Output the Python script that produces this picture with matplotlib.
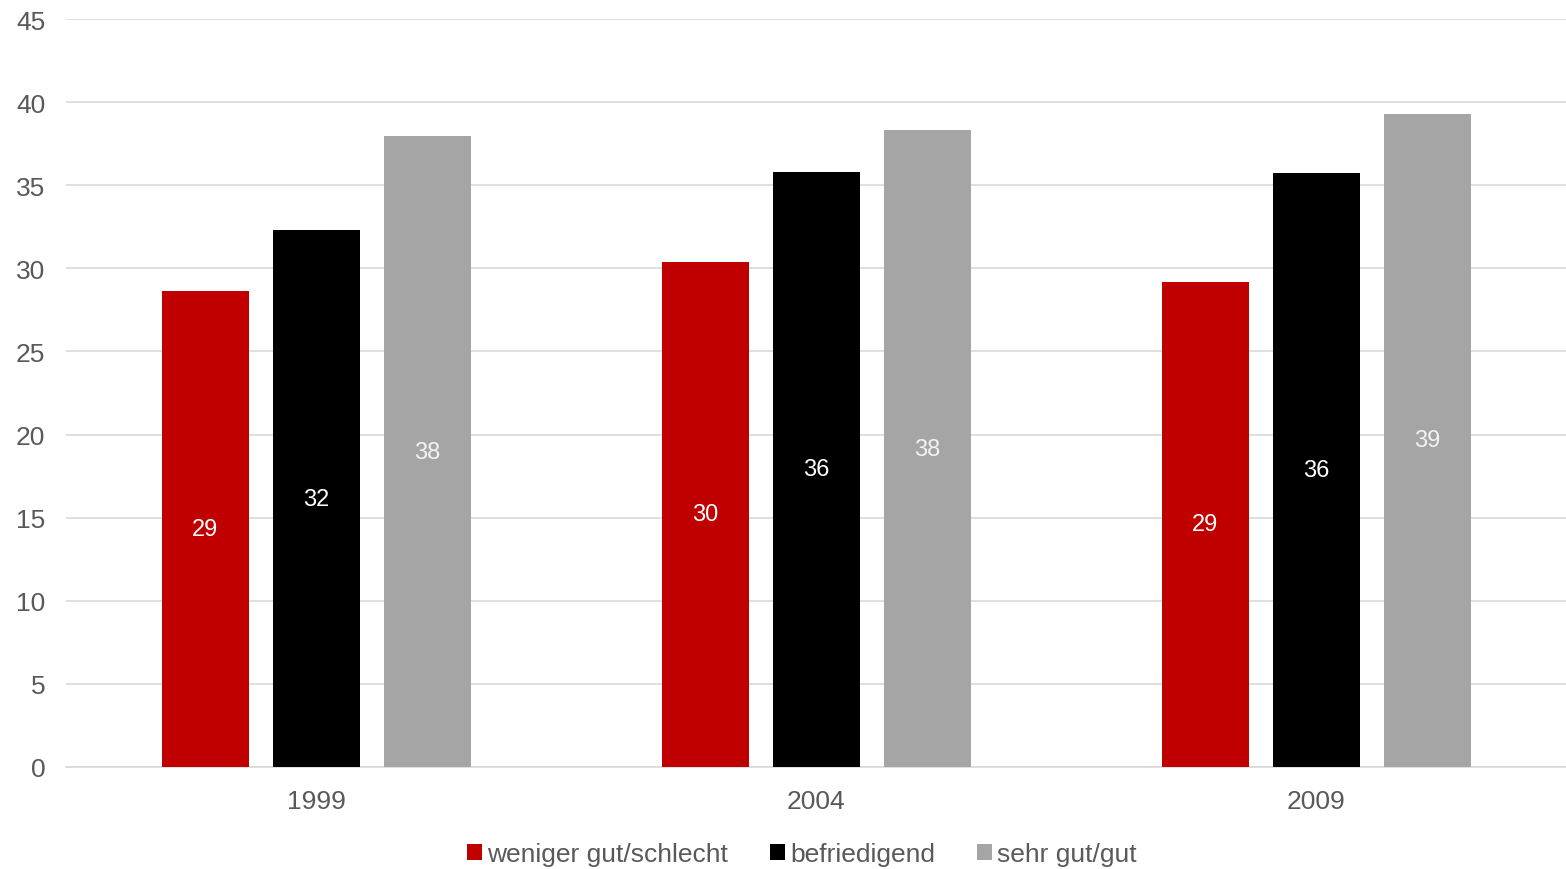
import matplotlib
matplotlib.use("Agg")
import matplotlib.pyplot as plt
import numpy as np

plt.rcParams['font.family'] = ['Liberation Sans', 'DejaVu Sans']

years = ["1999", "2004", "2009"]
series_names = ["weniger gut/schlecht", "befriedigend", "sehr gut/gut"]
weniger = [28.65, 30.4, 29.2]
befriedigend = [32.3, 35.8, 35.75]
sehr_gut = [37.95, 38.3, 39.3]
labels_weniger = ["29", "30", "29"]
labels_befr = ["32", "36", "36"]
labels_sehr = ["38", "38", "39"]
y_ticks = [0, 5, 10, 15, 20, 25, 30, 35, 40, 45]

colors = ["#C00000", "#000000", "#A5A5A5"]
label_colors = ["white", "white", "#F2F2F2"]

fig = plt.figure(figsize=(15.66, 8.7), dpi=100)
ax = fig.add_axes([66/1566, 1-768/870, 1-66/1566, (768-20)/870])

x = np.arange(len(years))
width = 0.174
offset = 0.222
all_series = [weniger, befriedigend, sehr_gut]
all_labels = [labels_weniger, labels_befr, labels_sehr]
for i, (vals, name, col, labs, lc) in enumerate(zip(all_series, series_names, colors, all_labels, label_colors)):
    xs = x + (i - 1) * offset
    bars = ax.bar(xs, vals, width, color=col, label=name, zorder=3)
    for xx, v, lab in zip(xs, vals, labs):
        ax.text(xx, v / 2, lab, ha='center', va='center', color=lc, fontsize=17, zorder=4)

ax.set_xlim(-0.5, 2.5)
ax.set_ylim(0, 45)
ax.set_yticks(y_ticks)
ax.set_yticklabels([str(t) for t in y_ticks])
ax.set_xticks(x)
ax.set_xticklabels(years)
ax.yaxis.grid(True, color="#D9D9D9", linewidth=1.2, zorder=0)
ax.set_axisbelow(True)
for s in ['top', 'right', 'left']:
    ax.spines[s].set_visible(False)
ax.spines['bottom'].set_color("#D9D9D9")
ax.spines['bottom'].set_linewidth(1.2)
ax.tick_params(axis='both', length=0, labelsize=19, colors="#595959")
ax.tick_params(axis='y', pad=15)
ax.tick_params(axis='x', pad=16)

handles, labels = ax.get_legend_handles_labels()
leg = fig.legend(handles, labels, loc='center', bbox_to_anchor=(802/1566, 1-855/870), ncol=3,
                 frameon=False, fontsize=19, handlelength=0.55, handleheight=0.55,
                 handletextpad=0.2, columnspacing=1.6, labelcolor="#595959", borderaxespad=0.0,
                 borderpad=0.0)

fig.savefig("out.png", dpi=100)
